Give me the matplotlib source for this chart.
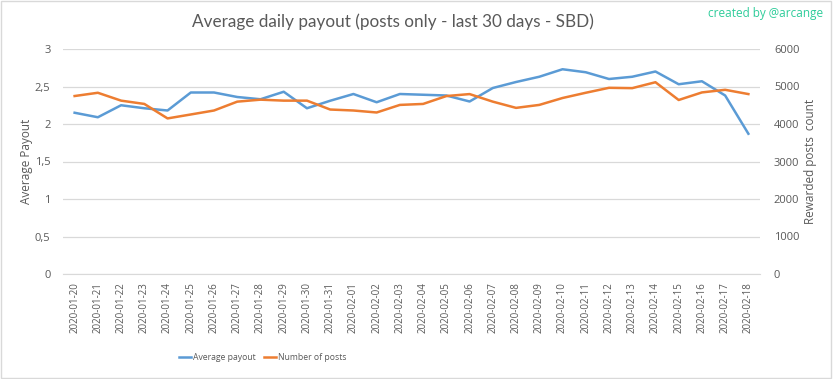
import numpy as np
import matplotlib.pyplot as plt
from matplotlib.patches import Rectangle
from matplotlib.ticker import FuncFormatter

dates = ["2020-01-20", "2020-01-21", "2020-01-22", "2020-01-23", "2020-01-24",
         "2020-01-25", "2020-01-26", "2020-01-27", "2020-01-28", "2020-01-29",
         "2020-01-30", "2020-01-31", "2020-02-01", "2020-02-02", "2020-02-03",
         "2020-02-04", "2020-02-05", "2020-02-06", "2020-02-07", "2020-02-08",
         "2020-02-09", "2020-02-10", "2020-02-11", "2020-02-12", "2020-02-13",
         "2020-02-14", "2020-02-15", "2020-02-16", "2020-02-17", "2020-02-18"]

avg_payout = [2.15, 2.09, 2.25, 2.21, 2.18, 2.42, 2.42, 2.36, 2.33, 2.43,
              2.21, 2.31, 2.40, 2.29, 2.40, 2.39, 2.38, 2.30, 2.48, 2.56,
              2.63, 2.73, 2.69, 2.60, 2.63, 2.70, 2.53, 2.57, 2.38, 1.87]

num_posts = [4746, 4833, 4623, 4535, 4149, 4254, 4360, 4596, 4649, 4623,
             4623, 4386, 4360, 4307, 4509, 4535, 4745, 4798, 4596, 4430,
             4509, 4693, 4833, 4965, 4956, 5114, 4640, 4842, 4912, 4798]

grey = "#595959"
blue = "#5b9bd5"
orange = "#ed7d31"
plt.rcParams['font.family'] = ['Open Sans', 'DejaVu Sans']

fig = plt.figure(figsize=(8.33, 3.79), dpi=100)
ax = fig.add_axes([63/833, 1 - 274/379, 697/833, 225/379])
ax2 = ax.twinx()

x = np.arange(len(dates))
l1, = ax.plot(x, avg_payout, color=blue, lw=1.8, label="Average payout")
l2, = ax2.plot(x, num_posts, color=orange, lw=1.8, label="Number of posts")

ax.set_xlim(-0.5, len(dates) - 0.5)
ax.set_ylim(0, 3)
ax2.set_ylim(0, 6000)
ax.set_yticks(np.arange(0, 3.01, 0.5))
ax2.set_yticks(np.arange(0, 6001, 1000))
ax.yaxis.set_major_formatter(FuncFormatter(lambda v, p: f"{v:g}".replace(".", ",")))
ax.grid(axis='y', color="#d9d9d9", lw=0.9)
ax.set_axisbelow(True)

ax.set_xticks(x)
ax.set_xticklabels(dates, rotation=90, fontsize=7, color=grey)
ax.tick_params(axis='x', length=0, pad=6)
ax.tick_params(axis='y', length=0, pad=9, labelsize=8, labelcolor=grey)
ax2.tick_params(axis='y', length=0, pad=10, labelsize=8, labelcolor=grey)

for a in (ax, ax2):
    for s in a.spines.values():
        s.set_visible(False)
ax.spines['bottom'].set_visible(True)
ax.spines['bottom'].set_color("#d9d9d9")

ax.set_ylabel("Average Payout", fontsize=8.5, color=grey)
ax.yaxis.set_label_coords(-30/697, 0.5)
ax2.set_ylabel("Rewarded posts  count", fontsize=8.5, color=grey, labelpad=3)

fig.text(393/833, 1 - 22/379, "Average daily payout (posts only - last 30 days - SBD)",
         ha='center', va='center', fontsize=12.3, color=grey, family='Lato')
fig.text(823/833, 1 - 14/379, "created by @arcange", ha='right', va='center',
         fontsize=8.5, color="#2ecc9a")

fig.legend(handles=[l1, l2], loc='center', bbox_to_anchor=(263/833, 1 - 358/379),
           ncol=2, frameon=False, fontsize=6.2, labelcolor=grey,
           handlelength=1.4, columnspacing=1.0, handletextpad=0.2)

fig.add_artist(Rectangle((0.001, 0.002), 0.997, 0.995, transform=fig.transFigure,
                         fill=False, edgecolor="#d9d9d9", lw=1))

fig.savefig("out.png", dpi=100, facecolor="white")
